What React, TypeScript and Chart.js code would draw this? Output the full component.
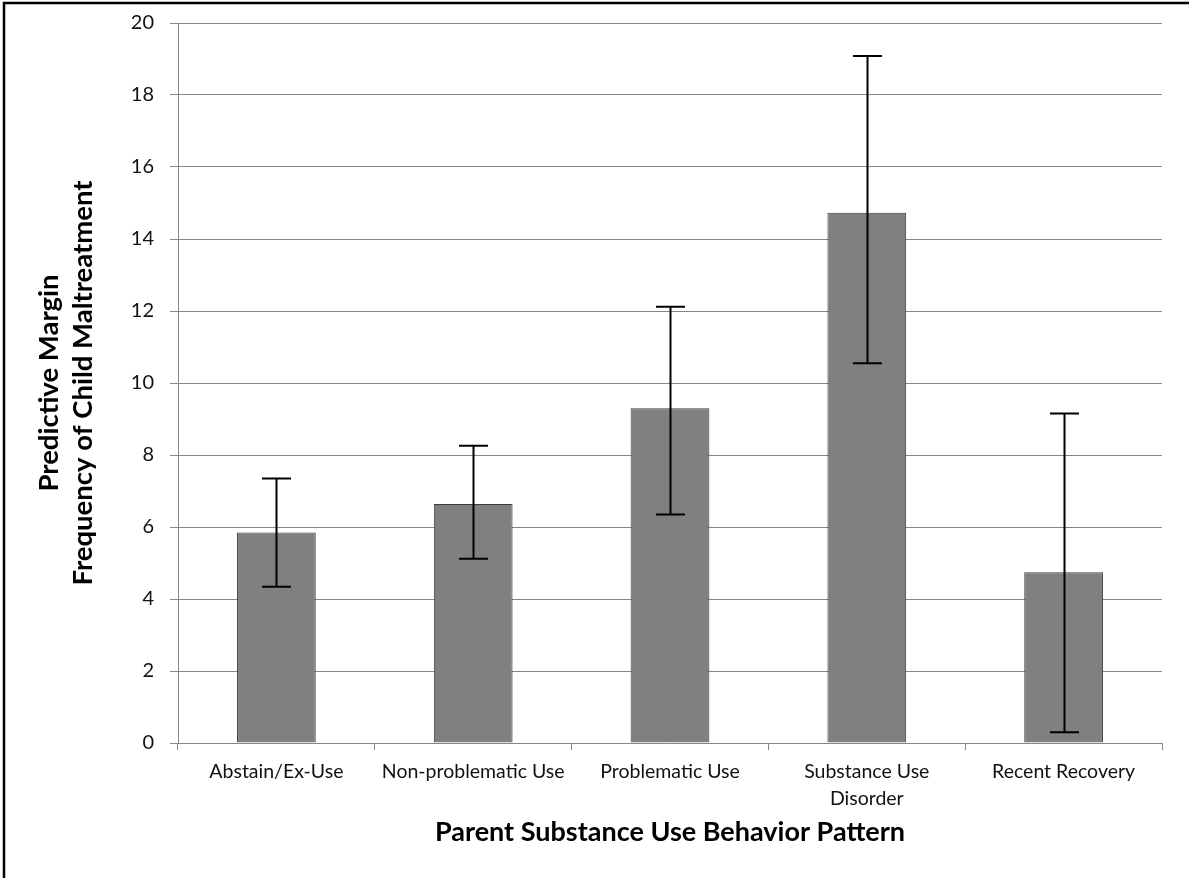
import React, { useEffect, useRef } from "react";
import { Chart, registerables } from "chart.js";

Chart.register(...registerables);

const categories: (string | string[])[] = [
  "Abstain/Ex-Use",
  "Non-problematic Use",
  "Problematic Use",
  ["Substance Use", "Disorder"],
  "Recent Recovery",
];
const margins = [5.85, 6.64, 9.3, 14.73, 4.74];
const lowerCI = [4.34, 5.12, 6.35, 10.55, 0.3];
const upperCI = [7.35, 8.26, 12.12, 19.08, 9.15];
const yTicks = [0, 2, 4, 6, 8, 10, 12, 14, 16, 18, 20];

const FONT = "Lato, 'Open Sans', sans-serif";

const errorBarPlugin = {
  id: "errorBars",
  afterDatasetsDraw(chart: any) {
    const { ctx, scales } = chart;
    const meta = chart.getDatasetMeta(0);
    const y = scales.y;
    ctx.save();
    ctx.strokeStyle = "#000";
    ctx.lineWidth = 2;
    meta.data.forEach((bar: any, i: number) => {
      const x = Math.round(bar.x) + 0.5;
      const yTop = y.getPixelForValue(upperCI[i]);
      const yBot = y.getPixelForValue(lowerCI[i]);
      const half = 14.5;
      ctx.beginPath();
      ctx.moveTo(x, yTop);
      ctx.lineTo(x, yBot);
      ctx.moveTo(x - half, yTop);
      ctx.lineTo(x + half, yTop);
      ctx.moveTo(x - half, yBot);
      ctx.lineTo(x + half, yBot);
      ctx.stroke();
    });
    ctx.restore();
  },
};

const framePlugin = {
  id: "frame",
  afterDraw(chart: any) {
    const { ctx, width } = chart;
    ctx.save();
    ctx.strokeStyle = "#000";
    ctx.lineWidth = 2.5;
    ctx.beginPath();
    ctx.moveTo(4, chart.height);
    ctx.lineTo(4, 3);
    ctx.lineTo(width, 3);
    ctx.stroke();
    ctx.restore();
  },
};

export default function App() {
  const ref = useRef<HTMLCanvasElement | null>(null);

  useEffect(() => {
    document.body.style.margin = "0";
    if (!ref.current) return;
    const chart = new Chart(ref.current, {
      type: "bar",
      data: {
        labels: categories,
        datasets: [
          {
            data: margins,
            backgroundColor: "#808080",
            borderColor: "#3c3c3c",
            borderWidth: 1,
            barPercentage: 0.4,
            categoryPercentage: 1,
          },
        ],
      },
      options: {
        animation: false,
        responsive: false,
        maintainAspectRatio: false,
        layout: { padding: { left: 0, right: 27, top: 23, bottom: 0 } },
        plugins: {
          legend: { display: false },
          tooltip: { enabled: false },
        },
        scales: {
          x: {
            offset: true,
            grid: {
              offset: true,
              drawOnChartArea: false,
              drawTicks: true,
              tickLength: 7,
              color: "#868686",
            },
            border: { color: "#868686", width: 1 },
            ticks: {
              color: "#111",
              font: { family: FONT, size: 19.5, lineHeight: 1.35 },
              padding: 9,
              maxRotation: 0,
              autoSkip: false,
            },
            title: {
              display: true,
              text: "Parent Substance Use Behavior Pattern",
              color: "#000",
              font: { family: FONT, size: 27, weight: "bold", lineHeight: 1.3 },
              padding: { top: 0, bottom: 28 },
            },
            afterFit(scale: any) {
              scale.height = 135;
              scale.paddingLeft = 0;
              scale.paddingRight = 0;
            },
          },
          y: {
            min: 0,
            max: 20,
            afterBuildTicks(scale: any) {
              scale.ticks = yTicks.map((v) => ({ value: v }));
            },
            grid: {
              color: "#868686",
              tickLength: 8,
            },
            border: { color: "#868686", width: 1 },
            ticks: {
              color: "#111",
              font: { family: FONT, size: 20 },
              padding: 16,
            },
            title: {
              display: true,
              text: ["Predictive Margin", "Frequency of Child Maltreatment"],
              color: "#000",
              font: { family: FONT, size: 27.5, weight: "bold", lineHeight: 1.25 },
              padding: { top: 32, bottom: 0 },
            },
            afterFit(scale: any) {
              scale.width = 178;
              scale.paddingTop = 0;
              scale.paddingBottom = 0;
            },
          },
        },
      },
      plugins: [errorBarPlugin, framePlugin],
    });
    return () => chart.destroy();
  }, []);

  return (
    <div style={{ position: "absolute", left: 0, top: 0, width: 1189, height: 878, background: "#fff" }}>
      <canvas ref={ref} width={1189} height={878} style={{ width: 1189, height: 878, display: "block" }} />
    </div>
  );
}
